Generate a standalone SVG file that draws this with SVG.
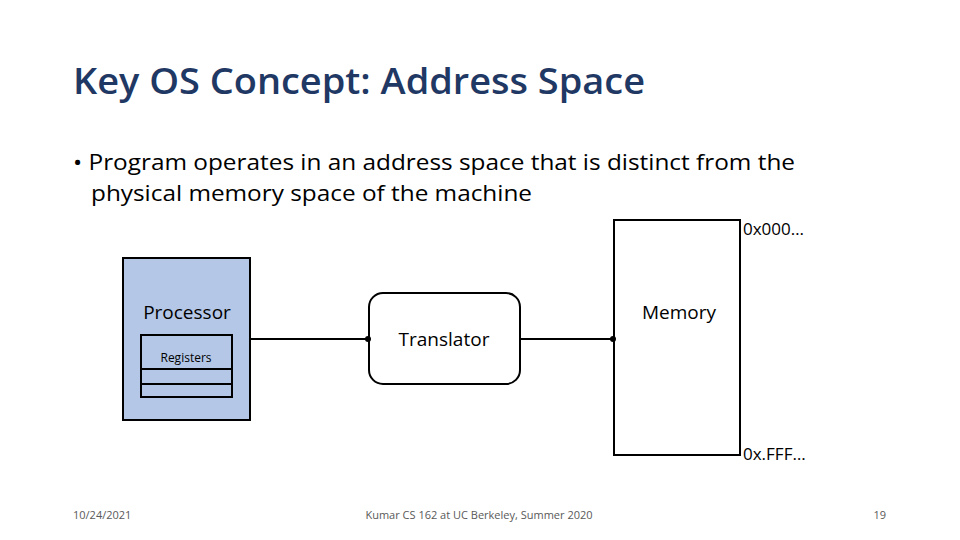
<svg xmlns="http://www.w3.org/2000/svg" width="960" height="540" viewBox="0 0 960 540">
<style>
text{font-family:"Open Sans","Liberation Sans",sans-serif;fill:#000}
.b{fill:none;stroke:#000;stroke-width:2}
.f{font-size:11px;fill:#595959}
</style>
<defs><marker id="m" markerWidth="4" markerHeight="4" refX="2" refY="2" orient="auto"><circle cx="2" cy="2" r="1.5" fill="#000"/></marker></defs>
<rect width="960" height="540" fill="#fff"/>
<text x="73" y="94" style="font-size:36px;font-weight:600;fill:#1F3864" textLength="572" lengthAdjust="spacingAndGlyphs">Key OS Concept: Address Space</text>
<text x="73" y="170" style="font-size:22px" textLength="722" lengthAdjust="spacingAndGlyphs">• Program operates in an address space that is distinct from the</text>
<text x="91" y="201" style="font-size:22px" textLength="441" lengthAdjust="spacingAndGlyphs">physical memory space of the machine</text>
<g id="processor">
<rect x="123" y="258" width="127" height="162" fill="#B4C7E7" stroke="#000" stroke-width="2"/>
<text x="187" y="319" text-anchor="middle" style="font-size:19px">Processor</text>
</g>
<g id="registers">
<rect class="b" x="141" y="335" width="91" height="62"/>
<line class="b" x1="141" y1="369" x2="232" y2="369"/>
<line class="b" x1="141" y1="384" x2="232" y2="384"/>
<text x="186" y="362" text-anchor="middle" style="font-size:12px">Registers</text>
</g>
<g id="translator">
<rect class="b" x="369" y="293" width="151" height="91" rx="14"/>
<text x="444" y="346" text-anchor="middle" style="font-size:19px">Translator</text>
</g>
<g id="memory">
<rect class="b" x="614" y="220" width="126" height="235"/>
<text x="679" y="319" text-anchor="middle" style="font-size:19px">Memory</text>
<text x="743" y="235" style="font-size:17px">0x000…</text>
<text x="743" y="460" style="font-size:17px">0x.FFF…</text>
</g>
<g id="connectors">
<line class="b" x1="250" y1="339" x2="368" y2="339" marker-end="url(#m)"/>
<line class="b" x1="520" y1="339" x2="613" y2="339" marker-end="url(#m)"/>
</g>
<text class="f" x="73" y="519">10/24/2021</text>
<text class="f" x="479" y="519" text-anchor="middle">Kumar CS 162 at UC Berkeley, Summer 2020</text>
<text class="f" x="886" y="519" text-anchor="end">19</text>
</svg>
